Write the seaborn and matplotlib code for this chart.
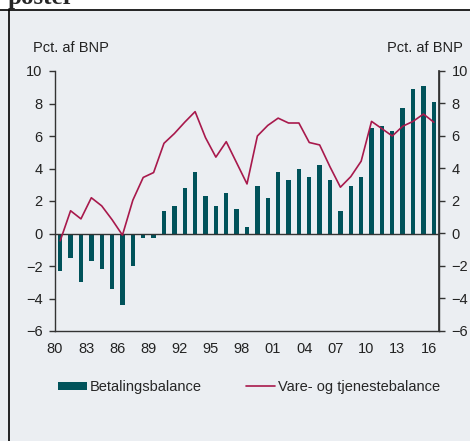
import numpy as np
import pandas as pd
import matplotlib
matplotlib.use("Agg")
import matplotlib.pyplot as plt
from matplotlib.lines import Line2D
from matplotlib.patches import Rectangle
import seaborn as sns

years = list(range(1980, 2017))
betalingsbalance = [-2.3, -1.5, -3.0, -1.7, -2.2, -3.4, -4.4, -2.0, -0.25, -0.3,
                    1.4, 1.7, 2.8, 3.8, 2.3, 1.7, 2.5, 1.5, 0.4, 2.9,
                    2.2, 3.8, 3.3, 4.0, 3.5, 4.2, 3.3, 1.4, 2.9, 3.5,
                    6.5, 6.6, 6.3, 7.7, 8.9, 9.1, 8.1]
vare_tjeneste = [-0.45, 1.4, 0.9, 2.2, 1.7, 0.85, -0.1, 2.05, 3.45, 3.75,
                 5.55, 6.15, 6.85, 7.5, 5.9, 4.7, 5.65, 4.35, 3.05, 6.0,
                 6.65, 7.1, 6.8, 6.8, 5.6, 5.45, 4.1, 2.85, 3.5, 4.45,
                 6.9, 6.45, 6.0, 6.6, 6.9, 7.35, 6.85]
tick_years = years[::3]
tick_labels = [str(y)[2:] for y in tick_years]
y_ticks = list(range(-6, 11, 2))

bg = "#EBEEF2"
bar_col = "#00525A"
line_col = "#A8194C"
dark = "#333333"

df = pd.DataFrame({"aar": years, "bet": betalingsbalance, "vt": vare_tjeneste})

sns.set_theme(style="white")
plt.rcParams["font.family"] = ["Liberation Sans", "DejaVu Sans"]
plt.rcParams["font.size"] = 10.5

fig = plt.figure(figsize=(4.70, 4.41), dpi=100, facecolor=bg)
ax = fig.add_axes([55 / 470, 1 - 331 / 441, 384 / 470, 260 / 441])
ax.set_facecolor(bg)

sns.barplot(data=df, x="aar", y="bet", native_scale=True, width=0.42,
            color=bar_col, saturation=1, edgecolor="none", ax=ax,
            label="Betalingsbalance")
sns.lineplot(data=df, x="aar", y="vt", color=line_col, linewidth=1.2, ax=ax,
             label="Vare- og tjenestebalance")
ax.axhline(0, color=dark, linewidth=1.0, zorder=1)

ax.set_xlim(years[0] - 0.5, years[-1] + 0.5)
ax.set_ylim(-6, 10)
ax.set_xticks([y - 0.5 for y in tick_years])
ax.set_xticklabels(tick_labels)
ax.set_yticks(y_ticks)
ax.set_xlabel("")
ax.set_ylabel("")
ax.tick_params(axis="both", direction="out", length=4, width=1, color=dark,
               labelcolor="#222222", labelsize=10.5)
ax.tick_params(axis="y", pad=5)
ax.tick_params(axis="x", pad=4)
for s in ["top"]:
    ax.spines[s].set_visible(False)
for s in ["left", "bottom", "right"]:
    ax.spines[s].set_color(dark)
    ax.spines[s].set_linewidth(1.0)
ax.get_legend().remove()

ax2 = ax.twinx()
ax2.set_ylim(-6, 10)
ax2.set_yticks(y_ticks)
ax2.tick_params(axis="y", direction="out", length=4, width=1, color=dark,
                labelcolor="#222222", labelsize=10.5, pad=5)
ax2.spines["top"].set_visible(False)
ax2.spines["left"].set_visible(False)
ax2.spines["bottom"].set_visible(False)
ax2.spines["right"].set_color(dark)
ax2.grid(False)

fig.text(33 / 470, 1 - 48 / 441, "Pct. af BNP", ha="left", va="center",
         fontsize=10.5, color="#222222")
fig.text(463 / 470, 1 - 48 / 441, "Pct. af BNP", ha="right", va="center",
         fontsize=10.5, color="#222222")

handles = [Rectangle((0, 0), 1, 1, facecolor=bar_col, edgecolor="none"),
           Line2D([0], [0], color=line_col, linewidth=1.2)]
fig.legend(handles, ["Betalingsbalance", "Vare- og tjenestebalance"],
           loc="center", bbox_to_anchor=(249 / 470, 1 - 387 / 441), ncol=2,
           frameon=False, fontsize=10.5, handlelength=2.0, handleheight=0.5,
           handletextpad=0.2, columnspacing=3.0)

# white strip with cut-off heading and frame lines
fig.add_artist(Rectangle((0, 1 - 9.5 / 441), 1, 9.5 / 441, transform=fig.transFigure,
                         facecolor="white", edgecolor="none", zorder=5))
fig.text(8 / 470, 1 - 4 / 441, "poster", ha="left", va="baseline",
         fontsize=18, fontweight="bold", family="Liberation Serif", zorder=6)
fig.add_artist(Line2D([0, 1], [1 - 9.5 / 441] * 2, transform=fig.transFigure,
                      color="black", linewidth=1.2, zorder=7))
fig.add_artist(Line2D([9 / 470] * 2, [0, 1 - 9.5 / 441], transform=fig.transFigure,
                      color="black", linewidth=1.2, zorder=7))

fig.savefig("out.png", dpi=100, facecolor=bg)
